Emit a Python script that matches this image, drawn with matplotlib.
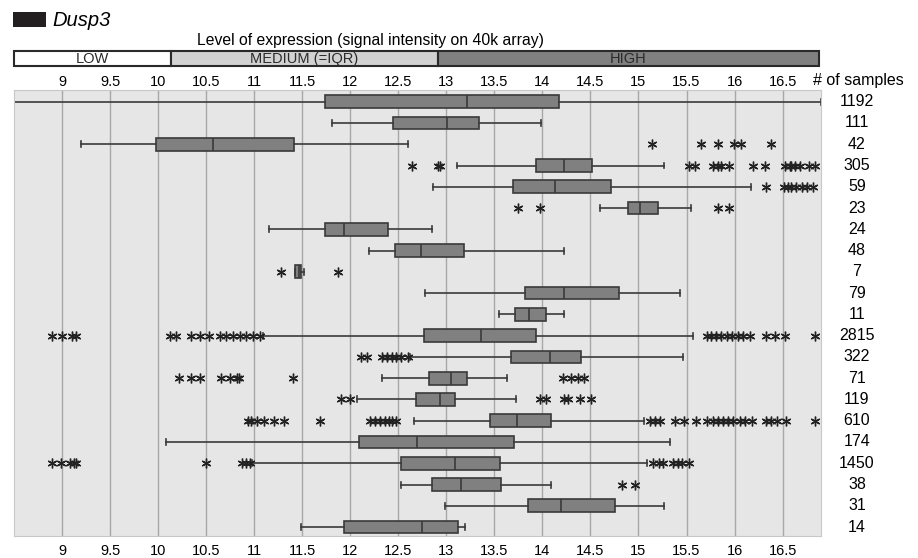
import matplotlib.pyplot as plt
from matplotlib.patches import Rectangle

plt.rcParams['font.family'] = ['Liberation Sans', 'DejaVu Sans']

# number of samples per row (top to bottom)
n_samples = [1192, 111, 42, 305, 59, 23, 24, 48, 7, 79, 11, 2815, 322, 71, 119, 610, 174, 1450, 38, 31, 14]

whislo = [8.5, 11.81, 9.20, 13.11, 12.86, 14.60, 11.15, 12.20, 11.43, 12.78, 13.55,
          11.09, 12.62, 12.33, 12.07, 12.66, 10.08, 10.98, 12.53, 12.99, 11.49]
q1 = [11.74, 12.45, 9.98, 13.93, 13.69, 14.89, 11.74, 12.47, 11.43, 13.82, 13.72,
      12.77, 13.67, 12.82, 12.68, 13.45, 12.09, 12.53, 12.85, 13.85, 11.94]
med = [13.22, 13.01, 10.57, 14.23, 14.13, 15.02, 11.94, 12.74, 11.47, 14.22, 13.86,
       13.36, 14.08, 13.05, 12.93, 13.74, 12.70, 13.09, 13.15, 14.19, 12.75]
q3 = [14.17, 13.34, 11.41, 14.52, 14.71, 15.20, 12.39, 13.18, 11.49, 14.80, 14.04,
      13.93, 14.40, 13.22, 13.09, 14.09, 13.70, 13.56, 13.57, 14.76, 13.12]
whishi = [16.9, 13.99, 12.60, 15.27, 16.17, 15.55, 12.85, 14.23, 11.52, 15.43, 14.22,
          15.57, 15.46, 13.63, 13.73, 15.06, 15.33, 15.09, 14.09, 15.27, 13.19]

fliers = [
    [],
    [],
    [15.14, 15.65, 15.83, 15.99, 16.07, 16.38],
    [12.64, 12.91, 12.93, 15.53, 15.59, 15.78, 15.83, 15.86, 15.94, 16.19, 16.32,
     16.53, 16.58, 16.59, 16.63, 16.68, 16.77, 16.84],
    [16.33, 16.52, 16.56, 16.59, 16.64, 16.70, 16.75, 16.82],
    [13.75, 13.97, 15.83, 15.94],
    [],
    [],
    [11.28, 11.87],
    [],
    [],
    [8.90, 9.00, 9.10, 9.15, 10.12, 10.19, 10.34, 10.44, 10.53, 10.64, 10.71, 10.78,
     10.85, 10.92, 10.99, 11.06, 15.71, 15.76, 15.81, 15.86, 15.92, 15.97, 16.04,
     16.09, 16.16, 16.33, 16.42, 16.53, 16.84],
    [12.11, 12.17, 12.33, 12.38, 12.43, 12.48, 12.53, 12.60],
    [10.22, 10.34, 10.44, 10.65, 10.75, 10.82, 10.84, 11.40, 14.21, 14.30, 14.37, 14.43],
    [11.90, 12.00, 13.97, 14.04, 14.23, 14.27, 14.39, 14.51],
    [10.94, 10.97, 11.03, 11.10, 11.21, 11.31, 11.69, 12.21, 12.26, 12.31, 12.36,
     12.40, 12.43, 12.48, 15.12, 15.17, 15.22, 15.38, 15.47, 15.60, 15.71, 15.78,
     15.83, 15.88, 15.93, 15.98, 16.06, 16.11, 16.18, 16.33, 16.38, 16.44, 16.54, 16.84],
    [],
    [8.90, 8.99, 9.08, 9.12, 9.15, 10.50, 10.87, 10.92, 10.96, 15.15, 15.21, 15.26,
     15.36, 15.41, 15.45, 15.53],
    [14.83, 14.96],
    [],
    [],
]

tick_vals = [9, 9.5, 10, 10.5, 11, 11.5, 12, 12.5, 13, 13.5, 14, 14.5, 15, 15.5, 16, 16.5]
tick_labels = ['9', '9.5', '10', '10.5', '11', '11.5', '12', '12.5', '13', '13.5',
               '14', '14.5', '15', '15.5', '16', '16.5']

# expression level bands
band_names = ['LOW', 'MEDIUM (=IQR)', 'HIGH']
band_edges = [8.5, 10.13, 12.91, 16.88]
band_colors = ['white', '#d2d2d2', '#808080']

XMIN, XMAX = 8.5, 16.9

stats = []
for i in range(len(n_samples)):
    stats.append(dict(whislo=whislo[i], q1=q1[i], med=med[i], q3=q3[i],
                      whishi=whishi[i], fliers=fliers[i]))

fig = plt.figure(figsize=(9.18, 5.58), dpi=100)
W, H = 918, 558

ax = fig.add_axes([14 / W, 1 - 536 / H, 807 / W, 446 / H])
ax.set_facecolor('#e6e6e6')
edge = '#3a3a3a'
ax.bxp(stats, positions=range(len(stats)), orientation='horizontal', widths=0.6,
       capwidths=0.28, patch_artist=True,
       boxprops=dict(facecolor='#808080', edgecolor=edge, linewidth=1.2),
       medianprops=dict(color=edge, linewidth=1.2),
       whiskerprops=dict(color=edge, linewidth=1.2),
       capprops=dict(color=edge, linewidth=1.2),
       flierprops=dict(marker=(6, 2, 0), markersize=7, markeredgewidth=1.0,
                       markeredgecolor='#222222', linestyle='none'))

ax.set_xlim(XMIN, XMAX)
ax.set_ylim(20.42, -0.55)
ax.set_yticks([])
ax.set_xticks(tick_vals)
ax.set_xticklabels(tick_labels)
ax.tick_params(axis='x', length=0, labelsize=10.5, pad=6)
ax.grid(axis='x', color='#a8a8a8', linewidth=1)
ax.set_axisbelow(True)
for s in ax.spines.values():
    s.set_color('#c8c8c8')

# same ticks on top, closer to the axes
top = ax.secondary_xaxis('top')
top.set_xticks(tick_vals)
top.set_xticklabels(tick_labels)
top.tick_params(axis='x', length=3, color='#a8a8a8', direction='in',
                labelsize=10.5, pad=1)
top.spines['top'].set_visible(False)

# sample counts on the right
for i, n in enumerate(n_samples):
    ax.text((857 - 14) / 807, i, str(n), transform=ax.get_yaxis_transform(),
            ha='center', va='center', fontsize=11.5, clip_on=False)
fig.text(813 / W, 1 - 80 / H, '# of samples', ha='left', va='center', fontsize=11.5)

# LOW / MEDIUM / HIGH header bar
hx = fig.add_axes([14 / W, 1 - 66 / H, 807 / W, 15 / H])
hx.set_xlim(XMIN, XMAX)
hx.set_ylim(0, 1)
hx.axis('off')
for j in range(len(band_names)):
    x0, x1 = band_edges[j], band_edges[j + 1]
    hx.add_patch(Rectangle((x0, 0), x1 - x0, 1, facecolor=band_colors[j],
                           edgecolor='#2a2a2a', linewidth=1.5, clip_on=False))
    hx.text((x0 + x1) / 2, 0.45, band_names[j], ha='center', va='center',
            fontsize=10.5, color='#2a2a2a')

fig.text(370 / W, 1 - 40 / H, 'Level of expression (signal intensity on 40k array)',
         ha='center', va='center', fontsize=11.3)

# gene label
fig.patches.append(Rectangle((13 / W, 1 - 27 / H), 33 / W, 15 / H,
                             transform=fig.transFigure, facecolor='#231f20',
                             edgecolor='none'))
fig.text(52 / W, 1 - 20 / H, 'Dusp3', ha='left', va='center', fontsize=14.5,
         style='italic')

fig.savefig('out.png', dpi=100)
